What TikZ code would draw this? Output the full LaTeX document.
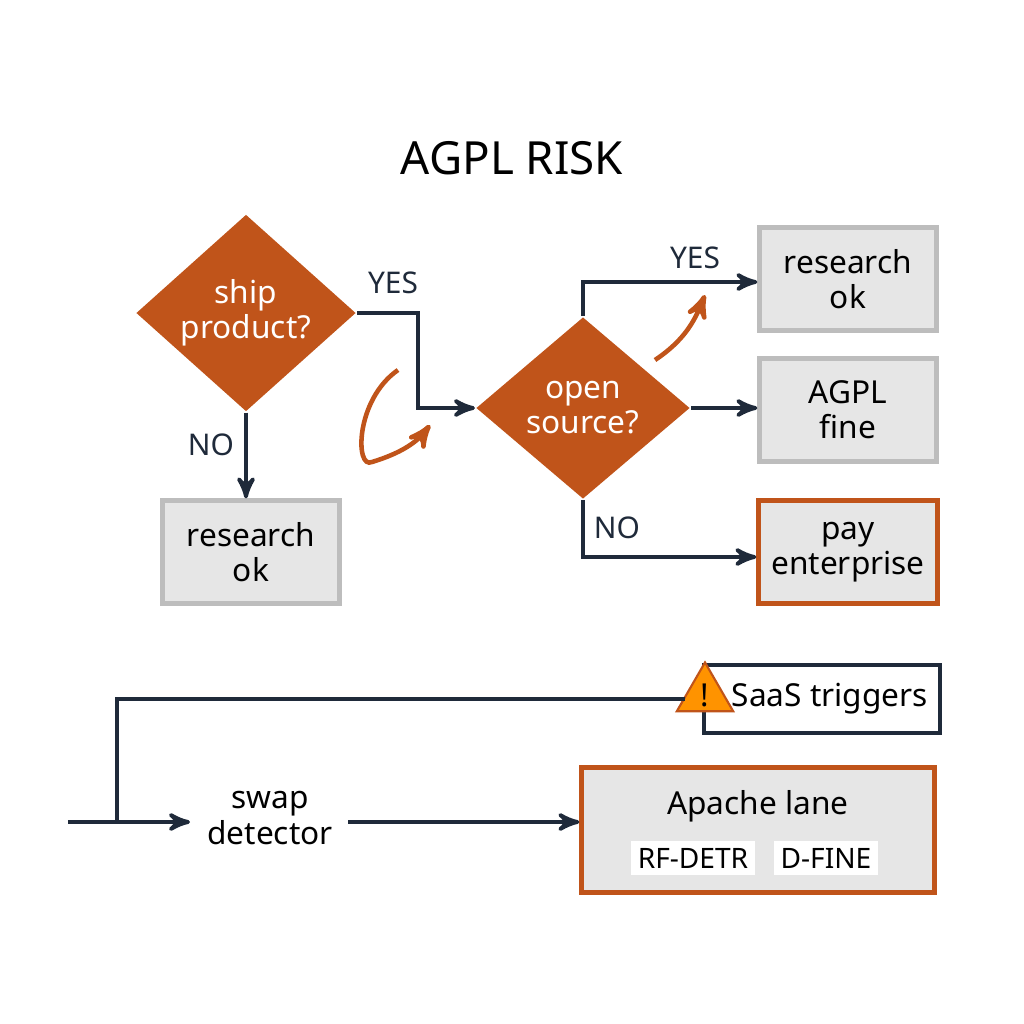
\documentclass[tikz,border=0pt]{standalone}
\usepackage{fontspec}
\setmainfont{Noto Sans}
\usetikzlibrary{shapes.geometric,arrows,positioning,calc}
\definecolor{rust}{HTML}{C0541A}
\definecolor{ink}{HTML}{1F2A3A}
\definecolor{boxgray}{HTML}{E6E6E6}
\definecolor{edgegray}{HTML}{BDBDBD}
\begin{document}
\begin{tikzpicture}[>=stealth', semithick,
  decide/.style={diamond,fill=rust,text=white,inner sep=0pt,minimum width=2.2cm,minimum height=1.9cm,align=center,font=\fontsize{9}{10}\selectfont},
  result/.style={rectangle,fill=boxgray,draw=edgegray,line width=1.2pt,minimum width=1.77cm,minimum height=1.03cm,align=center,font=\fontsize{9}{10}\selectfont},
  flow/.style={draw=ink,line width=1.1pt,->},
  tag/.style={font=\fontsize{8.5}{10}\selectfont,text=ink}]
  \useasboundingbox (0,0) rectangle (10.24,-10.24);
  \node[font=\fontsize{13}{15}\selectfont] (title) at (5.12,-1.58) {AGPL RISK};
  % decisions
  \node[decide] (ship) at (2.46,-3.13) {ship\\product?};
  \node[decide,minimum width=2.14cm,minimum height=1.82cm] (open) at (5.83,-4.08) {open\\source?};
  % outcomes
  \node[result] (resA) at (2.51,-5.52) {research\\ok};
  \node[result] (resB) at (8.48,-2.79) {research\\ok};
  \node[result] (fine) at (8.48,-4.10) {AGPL\\fine};
  \node[result,draw=rust,minimum width=1.79cm] (pay) at (8.48,-5.52) {pay\\enterprise};
  \node[result,fill=white,draw=ink,minimum width=2.29cm,minimum height=0.68cm] (saas) at (8.22,-6.99) {\hspace{0.5em}SaaS triggers};
  \node[regular polygon,regular polygon sides=3,fill=orange!85!yellow,draw=rust,inner sep=0pt,minimum size=0.6cm,font=\bfseries\small] (warn) at (7.05,-6.95) {!};
  \node[result,draw=rust,minimum width=3.53cm,minimum height=1.25cm] (lane) at (7.58,-8.30) {};
  \node[font=\fontsize{9}{10}\selectfont] (laneT) at (7.58,-8.06) {Apache lane};
  \node[fill=white,font=\fontsize{8}{9}\selectfont,inner sep=2pt] (rf) at (6.93,-8.58) {RF-DETR};
  \node[fill=white,font=\fontsize{8}{9}\selectfont,inner sep=2pt] (df) at (8.26,-8.58) {D-FINE};
  \node[align=center,font=\fontsize{9}{10}\selectfont] (swap) at (2.70,-8.18) {swap\\detector};
  \coordinate (start) at (0.68,-8.22);
  \coordinate (split) at (1.17,-8.22);
  % connectors
  \draw[flow] (ship.east) -- ++(0.61,0) |- (open.west);
  \node[tag] at (3.93,-2.83) {YES};
  \draw[flow] (ship.south) -- (ship.south |- resA.north);
  \node[tag] at (2.11,-4.45) {NO};
  \draw[flow] (open.north) |- (resB.west |- 0,-2.82);
  \node[tag] at (6.95,-2.58) {YES};
  \draw[flow] (open.east) -- (fine.west |- open.east);
  \draw[flow] (open.south) |- (pay.west |- 0,-5.57);
  \node[tag] at (6.17,-5.28) {NO};
  \draw[draw=ink,line width=1.1pt] (split) |- (warn.west |- 0,-6.99);
  \draw[flow] (start) -- (1.90,-8.22);
  \draw[flow] (3.48,-8.22) -- (lane.west |- 0,-8.22);
  % accents
  \draw[rust,line width=1.3pt,->] (3.98,-3.70) .. controls (3.55,-4.00) and (3.55,-4.70) .. (3.72,-4.62) .. controls (3.95,-4.55) and (4.15,-4.45) .. (4.30,-4.25);
  \draw[rust,line width=1.3pt,->] (6.55,-3.60) .. controls (6.85,-3.40) and (6.95,-3.20) .. (7.05,-2.95);
\end{tikzpicture}
\end{document}
